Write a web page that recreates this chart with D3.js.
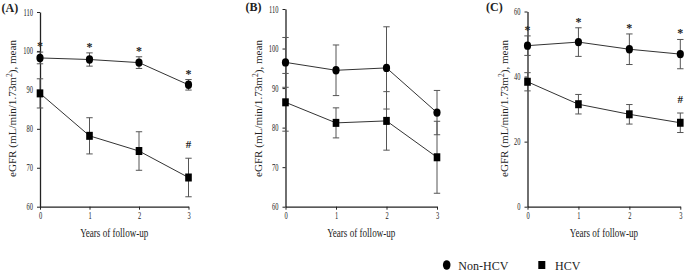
<!DOCTYPE html>
<html>
<head>
<meta charset="utf-8">
<script src="https://cdn.jsdelivr.net/npm/d3@7"></script>
<style>
  body { margin: 0; background: #fff; }
  svg { display: block; }
  text { font-family: "Liberation Serif", "Times New Roman", serif; fill: #222; }
</style>
</head>
<body>
<svg id="chart" width="685" height="272"></svg>
<script>
// ---- data ----
const years = [0, 1, 2, 3];
const panelNames = ["(A)", "(B)", "(C)"];
const yDomains = [[60, 110], [60, 110], [0, 60]];
const yTickValues = [[60, 70, 80, 90, 100, 110], [60, 70, 80, 90, 100, 110], [0, 20, 40, 60]];

const nonHcvA = [98.2, 97.8, 97.0, 91.3];
const nonHcvErrA = [1.5, 1.7, 1.5, 1.35];
const hcvA = [89.1, 78.2, 74.3, 67.5];
const hcvErrA = [3.75, 4.65, 4.95, 4.95];

const nonHcvB = [96.5, 94.5, 95.1, 83.8];
const nonHcvErrB = [6.3, 6.4, 10.4, 5.6];
const hcvB = [86.4, 81.2, 81.7, 72.5];
const hcvErrB = [7.3, 3.8, 7.4, 9.1];

const nonHcvC = [49.5, 50.6, 48.4, 46.9];
const nonHcvErrC = [3.0, 4.4, 4.7, 4.5];
const hcvC = [38.4, 31.5, 28.4, 25.8];
const hcvErrC = [2.8, 3.0, 3.0, 3.0];

// significance marks per panel: [nonHCV marks, HCV marks]
const nonHcvMarks = [["*", "*", "*", "*"], ["", "", "", ""], ["*", "*", "*", "*"]];
const hcvMarks = [["", "", "", "#"], ["", "", "", ""], ["", "", "", "#"]];

const xTitle = "Years of follow-up";
const legendLabels = ["Non-HCV", "HCV"];

// ---- layout ----
const panels = [
  { x0: 40, x3: 188.5, yTop: 12, yBot: 206.7, titleX: 16, labelX: 1.5, labelY: 12 },
  { x0: 285.5, x3: 437, yTop: 9, yBot: 206.7, titleX: 262, labelX: 245.5, labelY: 10.5 },
  { x0: 527.5, x3: 680.3, yTop: 11.5, yBot: 206.7, titleX: 507.5, labelX: 486, labelY: 10.5 }
];
const nonSeries = [[nonHcvA, nonHcvErrA], [nonHcvB, nonHcvErrB], [nonHcvC, nonHcvErrC]];
const hcvSeries = [[hcvA, hcvErrA], [hcvB, hcvErrB], [hcvC, hcvErrC]];

const svg = d3.select("#chart");

function condense(sel, factor) {
  sel.each(function () {
    const l = this.getComputedTextLength();
    this.setAttribute("textLength", (l * factor).toFixed(2));
    this.setAttribute("lengthAdjust", "spacingAndGlyphs");
  });
}

panels.forEach((p, i) => {
  const g = svg.append("g");
  const x = d3.scaleLinear().domain([0, 3]).range([p.x0, p.x3]);
  const y = d3.scaleLinear().domain(yDomains[i]).range([p.yBot, p.yTop]);

  // axes
  const ya = g.append("g").attr("transform", `translate(${p.x0},0)`)
    .call(d3.axisLeft(y).tickValues(yTickValues[i]).tickSize(3).tickSizeOuter(0).tickPadding(4));
  const xa = g.append("g").attr("transform", `translate(0,${p.yBot})`)
    .call(d3.axisBottom(x).tickValues(years).tickSize(3).tickSizeOuter(0).tickPadding(3).tickFormat(d3.format("d")));
  [ya, xa].forEach(a => {
    a.select(".domain").attr("stroke", "#222").attr("stroke-width", 1.3);
    a.selectAll(".tick line").attr("stroke", "#222").attr("stroke-width", 1);
    a.selectAll(".tick text").attr("font-size", 9.5).attr("fill", "#333")
      .style("font-family", '"Liberation Serif", serif');
  });
  condense(ya.selectAll(".tick text"), 0.68);
  condense(xa.selectAll(".tick text"), 0.68);

  // titles
  const xt = g.append("text").attr("x", (p.x0 + p.x3) / 2).attr("y", 236.5)
    .attr("text-anchor", "middle").attr("font-size", 11.5).text(xTitle);
  condense(xt, 0.79);

  const cy = 108.5;
  const yt = g.append("text").attr("transform", `translate(${p.titleX},${cy}) rotate(-90)`)
    .attr("text-anchor", "middle").attr("font-size", 11);
  yt.append("tspan").text("eGFR (mL/min/1.73m");
  yt.append("tspan").attr("dy", -4).attr("font-size", 7.5).text("2");
  yt.append("tspan").attr("dy", 4).text("), mean");
  yt.attr("textLength", 137).attr("lengthAdjust", "spacingAndGlyphs");

  g.append("text").attr("x", p.labelX).attr("y", p.labelY)
    .attr("font-size", 12).attr("font-weight", "bold").text(panelNames[i]);

  // series
  const drawSeries = (vals, errs, shape, marks, markOffset) => {
    const pts = years.map((yr, k) => ({ yr, v: vals[k], e: errs[k], m: marks[k] }));
    const sg = g.append("g");
    // error bars
    pts.forEach(d => {
      const cx = x(d.yr), top = y(d.v + d.e), bot = y(d.v - d.e);
      sg.append("line").attr("x1", cx).attr("x2", cx).attr("y1", top).attr("y2", bot)
        .attr("stroke", "#555").attr("stroke-width", 1);
      [top, bot].forEach(yy => sg.append("line").attr("x1", cx - 3.2).attr("x2", cx + 3.2)
        .attr("y1", yy).attr("y2", yy).attr("stroke", "#555").attr("stroke-width", 1));
      if (d.m) {
        sg.append("text").attr("x", cx).attr("y", top + markOffset(d.m))
          .attr("text-anchor", "middle").attr("font-size", d.m === "*" ? 12 : 11)
          .attr("font-weight", "bold").attr("fill", "#111").text(d.m);
      }
    });
    // connecting line
    sg.append("path").datum(pts)
      .attr("d", d3.line().x(d => x(d.yr)).y(d => y(d.v)))
      .attr("fill", "none").attr("stroke", "#333").attr("stroke-width", 1);
    // markers
    pts.forEach(d => {
      if (shape === "circle") {
        sg.append("ellipse").attr("cx", x(d.yr)).attr("cy", y(d.v)).attr("rx", 3.6).attr("ry", 4.2).attr("fill", "#000");
      } else {
        sg.append("rect").attr("x", x(d.yr) - 3.3).attr("y", y(d.v) - 4).attr("width", 6.6).attr("height", 8).attr("fill", "#000");
      }
    });
  };
  const off = m => (m === "*" ? -2 : -10);
  drawSeries(nonSeries[i][0], nonSeries[i][1], "circle", nonHcvMarks[i], off);
  drawSeries(hcvSeries[i][0], hcvSeries[i][1], "square", hcvMarks[i], off);
});

// legend
const lg = svg.append("g");
lg.append("ellipse").attr("cx", 446.7).attr("cy", 265).attr("rx", 3.8).attr("ry", 4.8).attr("fill", "#000");
lg.append("text").attr("x", 458.3).attr("y", 269.5).attr("font-size", 12).text(legendLabels[0]);
lg.append("rect").attr("x", 538.3).attr("y", 261).attr("width", 7).attr("height", 8).attr("fill", "#000");
lg.append("text").attr("x", 555).attr("y", 269.5).attr("font-size", 12).text(legendLabels[1]);
</script>
</body>
</html>
